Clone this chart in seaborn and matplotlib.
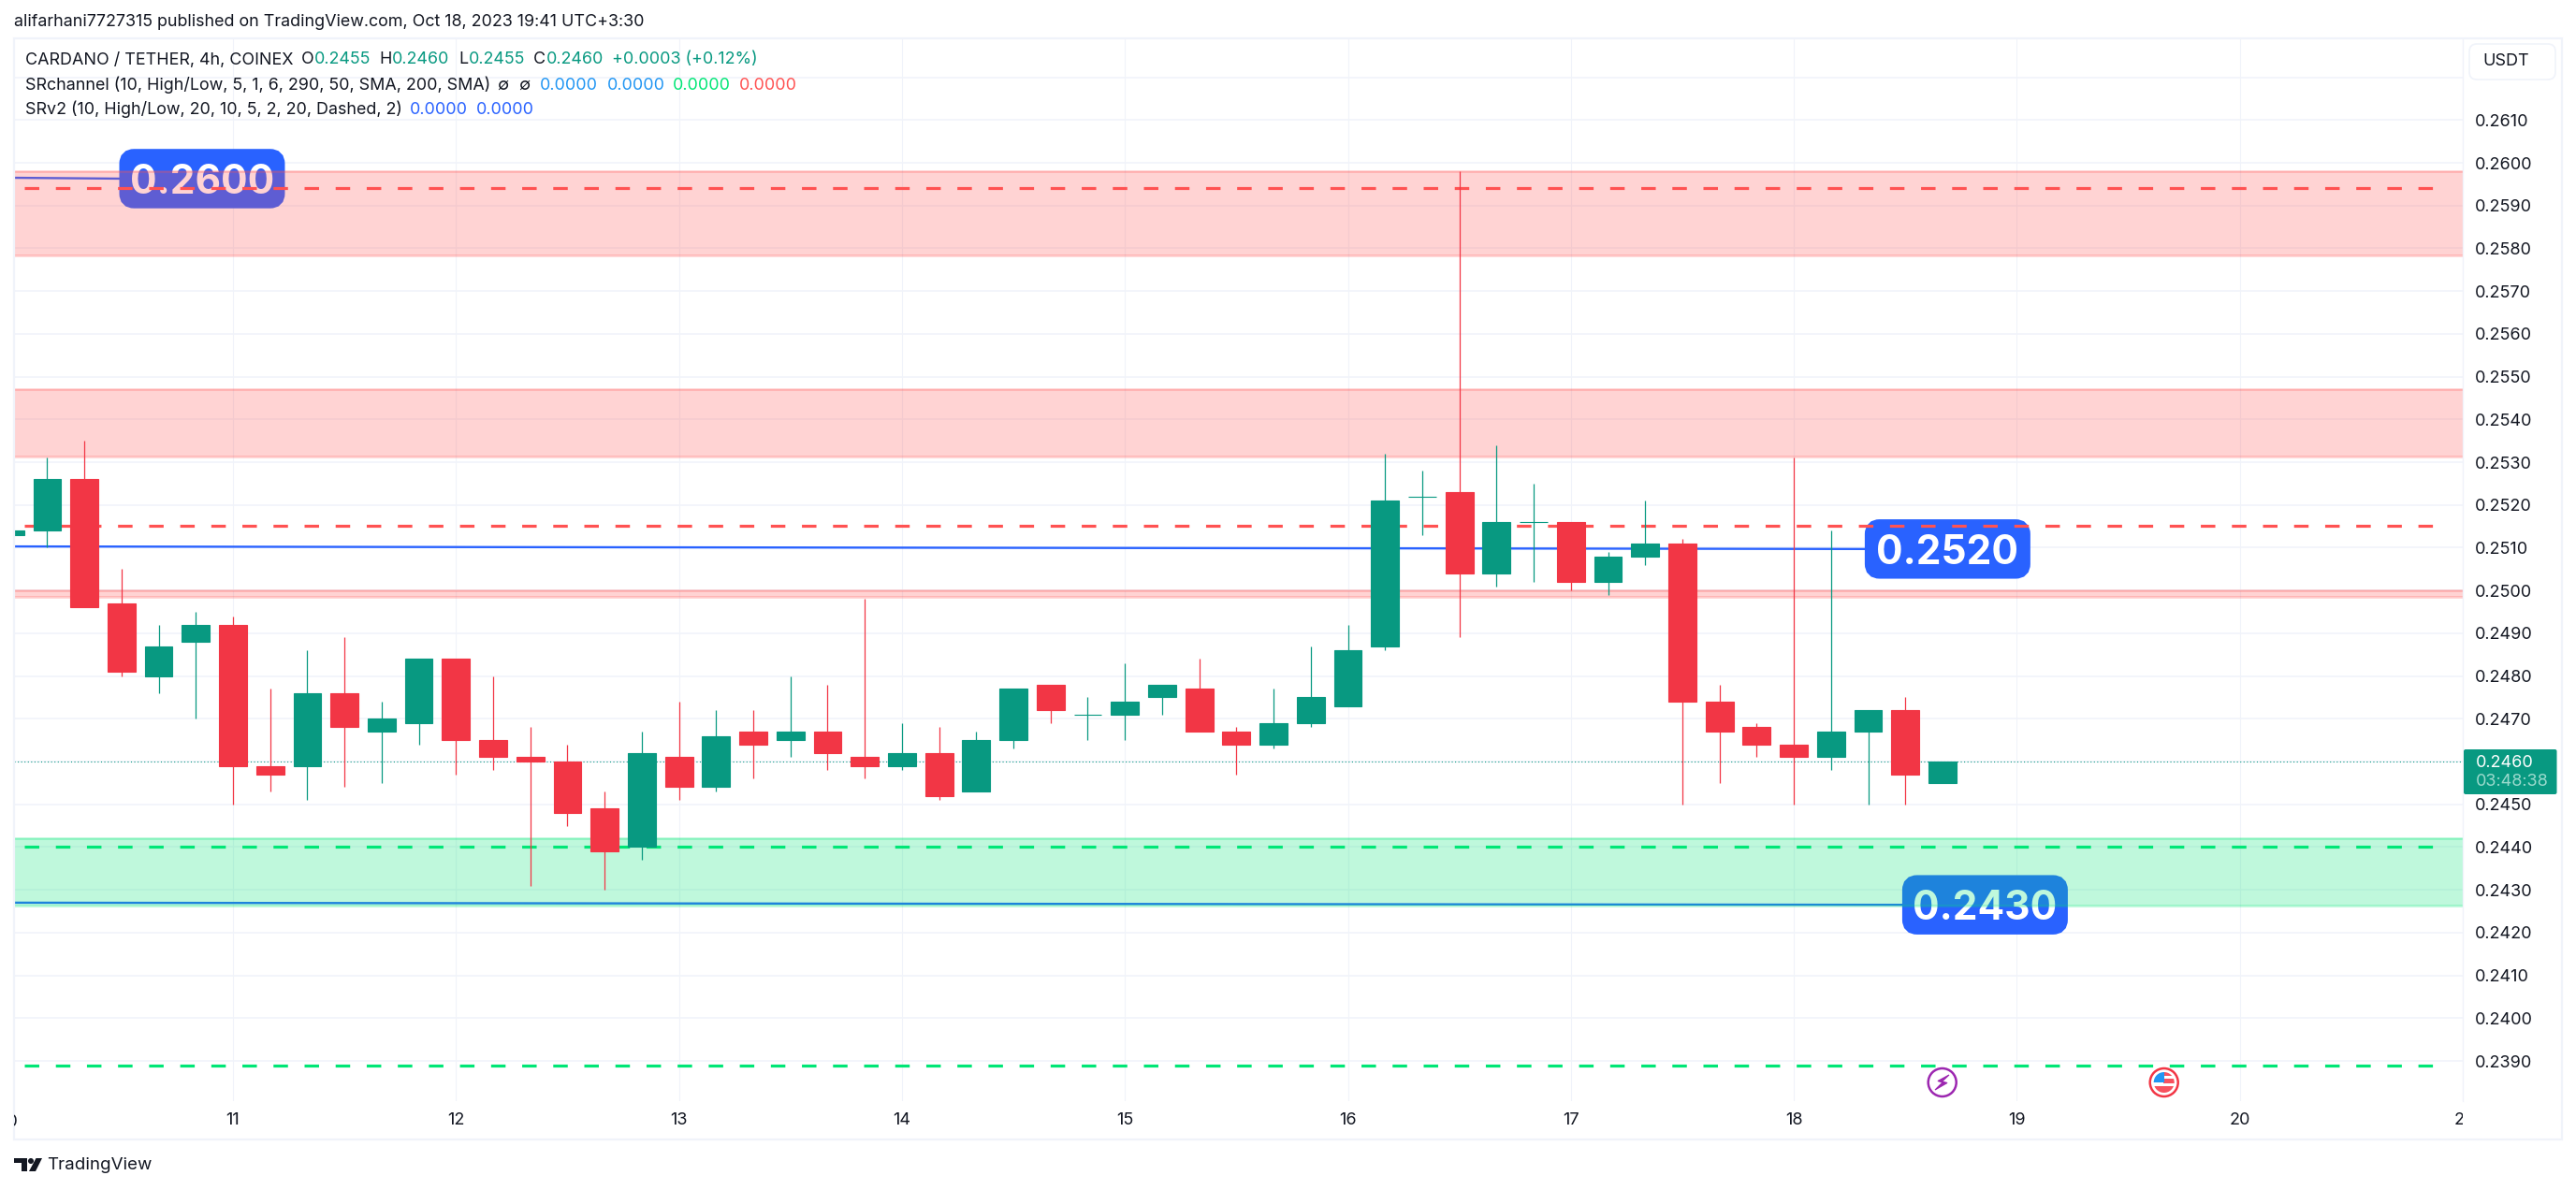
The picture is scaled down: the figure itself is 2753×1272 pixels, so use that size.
import numpy as np
import pandas as pd
import matplotlib
matplotlib.use('Agg')
import matplotlib.pyplot as plt
import seaborn as sns
from matplotlib.patches import FancyBboxPatch, Rectangle, Circle, Polygon
from matplotlib.transforms import Affine2D, Bbox

# 4h candles, first one starts at day 10
opens = [0.2513, 0.2514, 0.2526, 0.2497, 0.2480, 0.2488, 0.2492, 0.2459, 0.2459, 0.2476, 0.2467,
         0.2469, 0.2484, 0.2465, 0.2461, 0.2460, 0.2449, 0.2440, 0.2461, 0.2454, 0.2467,
         0.2465, 0.2467, 0.2461, 0.2459, 0.2462, 0.2453, 0.2465, 0.2478, 0.2471, 0.2471,
         0.2475, 0.2477, 0.2467, 0.2464, 0.2469, 0.2473, 0.2487, 0.2522, 0.2523, 0.2504,
         0.2516, 0.2516, 0.2502, 0.2508, 0.2511, 0.2474, 0.2468, 0.2464, 0.2461, 0.2467,
         0.2472, 0.2455]
highs = [0.2514, 0.2531, 0.2535, 0.2505, 0.2492, 0.2495, 0.2494, 0.2477, 0.2486, 0.2489, 0.2474,
         0.2484, 0.2484, 0.2480, 0.2468, 0.2464, 0.2453, 0.2467, 0.2474, 0.2472, 0.2472,
         0.2480, 0.2478, 0.2498, 0.2469, 0.2468, 0.2467, 0.2477, 0.2478, 0.2475, 0.2483,
         0.2478, 0.2484, 0.2468, 0.2477, 0.2487, 0.2492, 0.2532, 0.2528, 0.2598, 0.2534,
         0.2525, 0.2516, 0.2509, 0.2521, 0.2512, 0.2478, 0.2469, 0.2531, 0.2514, 0.2472,
         0.2475, 0.2460]
lows = [0.2513, 0.2510, 0.2496, 0.2480, 0.2476, 0.2470, 0.2450, 0.2453, 0.2451, 0.2454, 0.2455,
        0.2464, 0.2457, 0.2458, 0.2431, 0.2445, 0.2430, 0.2437, 0.2451, 0.2453, 0.2456,
        0.2461, 0.2458, 0.2456, 0.2458, 0.2451, 0.2453, 0.2463, 0.2469, 0.2465, 0.2465,
        0.2471, 0.2467, 0.2457, 0.2463, 0.2468, 0.2473, 0.2486, 0.2513, 0.2489, 0.2501,
        0.2502, 0.2500, 0.2499, 0.2506, 0.2450, 0.2455, 0.2461, 0.2450, 0.2458, 0.2450,
        0.2450, 0.2455]
closes = [0.2514, 0.2526, 0.2496, 0.2481, 0.2487, 0.2492, 0.2459, 0.2457, 0.2476, 0.2468, 0.2470,
          0.2484, 0.2465, 0.2461, 0.2460, 0.2448, 0.2439, 0.2462, 0.2454, 0.2466, 0.2464,
          0.2467, 0.2462, 0.2459, 0.2462, 0.2452, 0.2465, 0.2477, 0.2472, 0.2471, 0.2474,
          0.2478, 0.2467, 0.2464, 0.2469, 0.2475, 0.2486, 0.2521, 0.2522, 0.2504, 0.2516,
          0.2516, 0.2502, 0.2508, 0.2511, 0.2474, 0.2467, 0.2464, 0.2461, 0.2467, 0.2472,
          0.2457, 0.2460]

# support / resistance zones (top, bottom)
red_zones = [(0.2598, 0.25784), (0.2547, 0.25313), (0.2500, 0.24984)]
green_zones = [(0.2442, 0.24263)]
red_dashes = [0.2594, 0.25151]
green_dashes = [0.2440, 0.2389]
dash_days = [10.064, 20.93]

# blue channel lines and their labels
line_start = [0.25965, 0.25103, 0.2427]
line_end = [0.25963, 0.25097, 0.24265]
label_days = [10.49, 18.318, 18.486]
label_texts = ['0.2600', '0.2520', '0.2430']

last_price = 0.2460
price_ticks = [0.2390, 0.2400, 0.2410, 0.2420, 0.2430, 0.2440, 0.2450, 0.2460, 0.2470, 0.2480, 0.2490, 0.2500,
               0.2510, 0.2520, 0.2530, 0.2540, 0.2550, 0.2560, 0.2570, 0.2580, 0.2590, 0.2600, 0.2610, 0.2620]
day_ticks = [11, 12, 13, 14, 15, 16, 17, 18, 19, 20, 21]

W, H = 2753, 1272
GREEN = '#089981'
RED = '#F23645'
BLUE = '#2962FF'
DARK = '#131722'
GRID = '#F0F3FA'

sns.set_style('white')
plt.rcParams['font.family'] = ['Inter', 'DejaVu Sans']

fig = plt.figure(figsize=(W / 100, H / 100), dpi=100, facecolor='white')
ax = fig.add_axes([15 / W, 1 - 1177 / H, (2632 - 15) / W, (1177 - 41) / H])
px = Affine2D().scale(1, -1).translate(0, H)  # top-left pixel coords for the page furniture

df = pd.DataFrame({'open': opens, 'high': highs, 'low': lows, 'close': closes})
df['day'] = 10 + df.index / 6
df['up'] = df['close'] >= df['open']
df['bottom'] = df[['open', 'close']].min(axis=1)
df['body'] = (df['close'] - df['open']).abs()

# wicks
ax.vlines(df['day'], df['low'], df['high'], colors=[GREEN if u else RED for u in df['up']],
          linewidth=0.9, zorder=5)
# bodies
for up, color in [(True, GREEN), (False, RED)]:
    part = df[df['up'] == up]
    sns.barplot(x=part['day'].values, y=part['body'].values, bottom=part['bottom'].values,
                native_scale=True, width=0.75, color=color, saturation=1, errorbar=None,
                edgecolor=color, linewidth=0.8, zorder=6, ax=ax)

xlim = (10.018, 21.0)
ylim = (0.23806, 0.26291)
price_per_px = (ylim[1] - ylim[0]) / 1136
day_per_px = (xlim[1] - xlim[0]) / 2617

# blue lines under the zones, label boxes too
for start, end, day, text in zip(line_start, line_end, label_days, label_texts):
    sns.lineplot(x=[xlim[0], day], y=[start, end], color=BLUE, linewidth=1.7, ax=ax, zorder=1,
                 errorbar=None, sort=False)
    box_w = 177 * day_per_px
    box_h = 63.5 * price_per_px
    ax.add_patch(FancyBboxPatch((day + 8 * day_per_px, end - box_h / 2 + 8 * price_per_px),
                                box_w - 16 * day_per_px, box_h - 16 * price_per_px,
                                boxstyle=f'round,pad=0,rounding_size={8 * day_per_px}',
                                mutation_aspect=price_per_px / day_per_px, facecolor=BLUE,
                                edgecolor=BLUE, linewidth=11.5, zorder=1.2))
    ax.text(day + box_w / 2, end, text, color='white', fontsize=30.5, fontweight='bold',
            ha='center', va='center_baseline', zorder=1.5)

# zones
for zones, color in [(red_zones, '#FF5252'), (green_zones, '#00E676')]:
    for top, bottom in zones:
        ax.axhspan(bottom, top, facecolor=color, alpha=0.25, linewidth=0, zorder=2)
        for edge in (top, bottom):
            ax.axhline(edge, color=color, alpha=0.3, linewidth=1.8, zorder=2)

# dashed levels
for levels, color in [(red_dashes, '#FF5252'), (green_dashes, '#00E676')]:
    for level in levels:
        ax.plot(dash_days, [level, level], color=color, linewidth=2.3,
                linestyle=(0, (4.85, 5.55)), zorder=3)

# last price
ax.axhline(last_price, color=GREEN, linewidth=0.8, linestyle=(0, (1, 2.2)), zorder=3.5)

ax.set_xlabel('')
ax.set_ylabel('')
ax.set_axisbelow(True)
ax.set_xticks(day_ticks)
ax.set_xticklabels([str(d) for d in day_ticks])
ax.set_yticks(price_ticks)
ax.set_yticklabels(['' if p in (last_price, 0.2620) else f'{p:.4f}' for p in price_ticks])
ax.set_xlim(xlim)
ax.set_ylim(ylim)
ax.yaxis.tick_right()
ax.grid(True, axis='y', color=GRID, linewidth=1.1)
ax.grid(True, axis='x', color=GRID, linewidth=0.8)
ax.tick_params(axis='y', length=0, pad=9.5, labelsize=13, labelcolor=DARK, right=False)
ax.tick_params(axis='x', length=0, pad=9, labelsize=13, labelcolor=DARK, bottom=False)
for s in ('left', 'top', 'bottom'):
    ax.spines[s].set_visible(False)
ax.spines['right'].set_color(GRID)
ax.spines['right'].set_linewidth(1)
# 21 is cut by the pane edge
pane_clip = Bbox([[15, 0], [2632, H]])
for lab in ax.get_xticklabels():
    lab.set_clip_on(True)
    lab.set_clip_box(pane_clip)

# outer frame
fig.add_artist(Rectangle((15, 41), 2738 - 15, 1218 - 41, transform=px, fill=False,
                         edgecolor=GRID, linewidth=1.6))


def put(x, y, s, color=DARK, size=12.9, **kw):
    return fig.text(x / W, 1 - y / H, s, color=color, fontsize=size, ha='left', va='center', **kw)


# day 10 sits left of the pane, only the edge of its label shows
ten = put(0, 1199, '10', size=13)
ten.set_clip_on(True)
ten.set_clip_box(pane_clip)

put(15, 24, 'alifarhani7727315 published on TradingView.com, Oct 18, 2023 19:41 UTC+3:30')

put(27, 64, 'CARDANO / TETHER, 4h, COINEX')
for x, s, c in [(322, 'O', DARK), (336, '0.2455', GREEN), (405.5, 'H', DARK), (419, '0.2460', GREEN),
                (490, 'L', DARK), (500.5, '0.2455', GREEN), (569.5, 'C', DARK), (583.5, '0.2460', GREEN),
                (653.5, '+0.0003 (+0.12%)', GREEN)]:
    put(x, 64, s, color=c)

put(27, 91, 'SRchannel (10, High/Low, 5, 1, 6, 290, 50, SMA, 200, SMA)')
for x, s, c in [(531, '∅', DARK), (554, '∅', DARK), (577, '0.0000', '#2196F3'), (648.5, '0.0000', '#2196F3'),
                (719, '0.0000', '#00E676'), (790, '0.0000', '#FF5252')]:
    put(x, 91, s, color=c)

put(27, 117, 'SRv2 (10, High/Low, 20, 10, 5, 2, 20, Dashed, 2)')
put(438, 117, '0.0000', color=BLUE)
put(509, 117, '0.0000', color=BLUE)

# USDT button
fig.add_artist(FancyBboxPatch((2644, 52), 82, 28, boxstyle='round,pad=5,rounding_size=8', transform=px,
                              facecolor='white', edgecolor=GRID, linewidth=1.2))
put(2653, 66, 'USDT', size=13)

# last price tag
fig.add_artist(FancyBboxPatch((2635, 803), 95.5, 44, boxstyle='round,pad=2,rounding_size=2', transform=px,
                              facecolor=GREEN, edgecolor='none'))
put(2645.5, 815, '0.2460', color='white', size=13)
put(2645.5, 836, '03:48:38', color='#9BDACD', size=13)

# event icons
fig.add_artist(Circle((2075.7, 1157), 15, transform=px, facecolor='white', edgecolor='#9C27B0', linewidth=1.8))
fig.add_artist(Polygon([(2083, 1149), (2071, 1155.5), (2076, 1157), (2068, 1165), (2081, 1157.5), (2075.5, 1156)],
                       closed=True, transform=px, facecolor='#9C27B0', edgecolor='#9C27B0', linewidth=0.8))
fig.add_artist(Circle((2312.7, 1157), 15, transform=px, facecolor='white', edgecolor=RED, linewidth=1.8))
flag = Circle((2312.7, 1157), 11, transform=px)
for y0, h, c, x0, w in [(1146, 4, '#F7525F', 2312, 13), (1153, 4.5, '#F7525F', 2312, 13),
                        (1161, 7, '#F7525F', 2301, 24), (1146, 11, '#2196F3', 2301, 12)]:
    r = Rectangle((x0, y0), w, h, transform=px, facecolor=c, edgecolor='none')
    fig.add_artist(r)
    r.set_clip_path(flag)

# logo
for pts in ([(15, 1238), (29, 1238), (29, 1252), (23, 1252), (23, 1243), (15, 1243)],
            [(38.5, 1238), (45, 1238), (38, 1252), (31, 1252)]):
    fig.add_artist(Polygon(pts, closed=True, transform=px, facecolor=DARK, edgecolor='none'))
fig.add_artist(Circle((33, 1241), 3, transform=px, facecolor=DARK, edgecolor='none'))
put(50, 1246, 'TradingView', size=13.5)

fig.savefig('out.png', dpi=100, facecolor='white')
